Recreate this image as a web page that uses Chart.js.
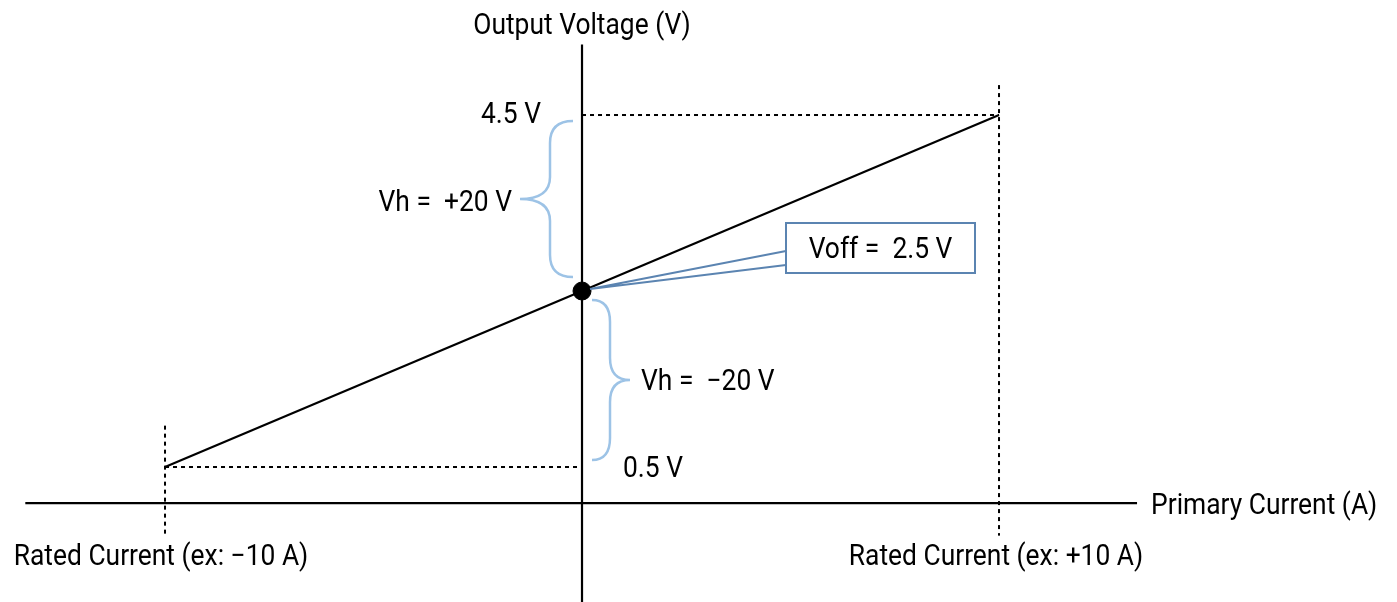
<!DOCTYPE html>
<html>
<head>
<meta charset="utf-8">
<script src="https://cdn.jsdelivr.net/npm/chart.js@4.4.0/dist/chart.umd.min.js"></script>
<style>
  html, body { margin:0; padding:0; background:#fff; }
  #wrap { width:1397px; height:602px; }
</style>
</head>
<body>
<div id="wrap"><canvas id="transferChart" width="1397" height="602"></canvas></div>
<script>
// transfer characteristic: primary current (A) -> output voltage (V)
const ratedCurrent  = [-10, 10];
const outputVoltage = [0.5, 4.5];
const offsetVoltage = 2.5;
const voltageTicks  = ['4.5 V', '0.5 V'];
const swingLabels   = ['Vh =  +20 V', 'Vh =  \u221220 V'];
const offsetLabel   = 'Voff =  2.5 V';
const ratedLabels   = ['Rated Current (ex: \u221210 A)', 'Rated Current (ex: +10 A)'];
const axisTitles    = ['Primary Current (A)', 'Output Voltage (V)'];

// visible axis extents (in data units)
const xAxisSpan = [-13.35, 13.31];
const yAxisSpan = [-1.04, 5.3];
const xAxisLevel = 0.09;

const FONT = '29px Roboto';
const SQUEEZE = 0.91;
const TEXT_DY = 3;
const BLUE_LIGHT = '#9dc3e6';
const BLUE_DARK  = '#5b84b1';

function line(pts, opts) {
    return Object.assign({
        data: pts, showLine: true, pointRadius: 0, borderColor: '#000',
        borderWidth: 2.2, fill: false, tension: 0
    }, opts || {});
}

const dash = { borderDash: [4, 4], borderWidth: 2 };

const datasets = [
    // axes
    line([{x: xAxisSpan[0], y: xAxisLevel}, {x: xAxisSpan[1], y: xAxisLevel}]),
    line([{x: 0, y: yAxisSpan[0]}, {x: 0, y: yAxisSpan[1]}]),
    // guides
    line([{x: 0, y: outputVoltage[1]}, {x: ratedCurrent[1], y: outputVoltage[1]}], dash),
    line([{x: ratedCurrent[0], y: outputVoltage[0]}, {x: 0, y: outputVoltage[0]}], dash),
    line([{x: ratedCurrent[1], y: 4.84}, {x: ratedCurrent[1], y: -0.28}], dash),
    line([{x: ratedCurrent[0], y: 0.97}, {x: ratedCurrent[0], y: -0.28}], dash),
    // characteristic
    line([{x: ratedCurrent[0], y: outputVoltage[0]}, {x: ratedCurrent[1], y: outputVoltage[1]}]),
    // offset point
    { data: [{x: 0, y: offsetVoltage}], pointRadius: 9, pointBackgroundColor: '#000',
      pointBorderColor: '#000', showLine: false }
];

function drawText(ctx, txt, x, y, align) {
    ctx.save();
    ctx.font = FONT;
    ctx.fillStyle = '#000';
    ctx.textBaseline = 'middle';
    const w = ctx.measureText(txt).width * SQUEEZE;
    let left = x;
    if (align === 'center') left = x - w / 2;
    if (align === 'right') left = x - w;
    ctx.translate(left, y + TEXT_DY);
    ctx.scale(SQUEEZE, 1);
    ctx.textAlign = 'left';
    ctx.fillText(txt, 0, 0);
    ctx.restore();
}

// curly brace; dir = -1 tip on the left, +1 tip on the right
function drawBrace(ctx, xEnd, y1, y2, dir, depth, reach) {
    const xv = xEnd + dir * depth, xt = xEnd + dir * reach, ym = (y1 + y2) / 2, r = 22;
    ctx.save();
    ctx.strokeStyle = BLUE_LIGHT;
    ctx.lineWidth = 2.5;
    ctx.beginPath();
    ctx.moveTo(xEnd, y1);
    ctx.quadraticCurveTo(xv, y1, xv, y1 + r);
    ctx.lineTo(xv, ym - r);
    ctx.quadraticCurveTo(xv, ym, xt, ym);
    ctx.quadraticCurveTo(xv, ym, xv, ym + r);
    ctx.lineTo(xv, y2 - r);
    ctx.quadraticCurveTo(xv, y2, xEnd, y2);
    ctx.stroke();
    ctx.restore();
}

const annotations = {
    id: 'annotations',
    afterDatasetsDraw(chart) {
        const ctx = chart.ctx;
        const xs = chart.scales.x, ys = chart.scales.y;
        const x0 = xs.getPixelForValue(0);
        const yHi = ys.getPixelForValue(outputVoltage[1]);
        const yLo = ys.getPixelForValue(outputVoltage[0]);
        const yOff = ys.getPixelForValue(offsetVoltage);

        drawBrace(ctx, x0 - 9, yHi + 6, yOff - 14, -1, 23, 53);
        drawBrace(ctx, x0 + 10, yOff + 9, yLo - 7, 1, 18, 38);

        // callout box
        const bx = 786, by = 223, bw = 189, bh = 50;
        ctx.save();
        ctx.strokeStyle = BLUE_DARK;
        ctx.lineWidth = 2;
        ctx.beginPath();
        ctx.moveTo(bx, by + 28);
        ctx.lineTo(x0 + 8, yOff - 2);
        ctx.lineTo(bx, by + 42);
        ctx.stroke();
        ctx.fillStyle = '#fff';
        ctx.fillRect(bx, by, bw, bh);
        ctx.strokeRect(bx, by, bw, bh);
        ctx.restore();
        drawText(ctx, offsetLabel, bx + bw / 2, by + bh / 2, 'center');

        drawText(ctx, voltageTicks[0], 541, yHi - 2, 'right');
        drawText(ctx, voltageTicks[1], 623, yLo, 'left');
        drawText(ctx, swingLabels[0], 512, ys.getPixelForValue(3.5) - 2, 'right');
        drawText(ctx, swingLabels[1], 641, ys.getPixelForValue(1.5) + 1, 'left');
        drawText(ctx, axisTitles[0], xs.getPixelForValue(xAxisSpan[1]) + 14, ys.getPixelForValue(xAxisLevel) + 1, 'left');
        drawText(ctx, axisTitles[1], x0, 24, 'center');
        drawText(ctx, ratedLabels[0], xs.getPixelForValue(ratedCurrent[0]) - 4, 555, 'center');
        drawText(ctx, ratedLabels[1], xs.getPixelForValue(ratedCurrent[1]) - 3, 555, 'center');
    }
};

new Chart(document.getElementById('transferChart'), {
    type: 'scatter',
    data: { datasets },
    options: {
        responsive: false,
        animation: false,
        layout: { padding: 0, autoPadding: false },
        plugins: { legend: { display: false }, tooltip: { enabled: false } },
        scales: {
            x: { type: 'linear', display: false, min: -13.957, max: 19.544 },
            y: { type: 'linear', display: false, min: -1.034, max: 5.807 }
        }
    },
    plugins: [annotations]
});
</script>
</body>
</html>
